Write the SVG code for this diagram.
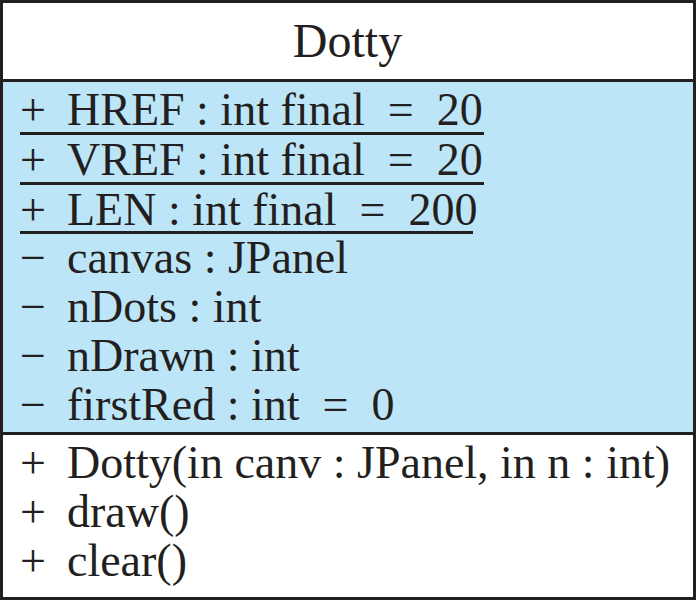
<svg xmlns="http://www.w3.org/2000/svg" width="696" height="600" viewBox="0 0 696 600">
<style>
text{font-family:"Liberation Serif","Times New Roman",serif;font-size:46px;fill:#231f20;white-space:pre}
.t{font-size:48px}
.u{stroke:#231f20;stroke-width:3}
.b{stroke:#231f20;stroke-width:3}
</style>
<g id="Dotty">
<rect x="1.5" y="1.5" width="693" height="597" fill="#fff" stroke="#231f20" stroke-width="3"/>
<rect x="3" y="81" width="690" height="352" fill="#bde5f8"/>
<line class="b" x1="1.5" y1="80.5" x2="694.5" y2="80.5"/>
<line class="b" x1="1.5" y1="433.5" x2="694.5" y2="433.5"/>
<text class="t" x="347.5" y="57" text-anchor="middle">Dotty</text>
<text x="20" y="125" xml:space="preserve">+<tspan x="67">HREF : int final  =  20</tspan></text>
<line class="u" x1="20" y1="133.5" x2="484" y2="133.5"/>
<text x="20" y="175" xml:space="preserve">+<tspan x="67">VREF : int final  =  20</tspan></text>
<line class="u" x1="20" y1="183.5" x2="484" y2="183.5"/>
<text x="20" y="225" xml:space="preserve">+<tspan x="67">LEN : int final  =  200</tspan></text>
<line class="u" x1="20" y1="232.5" x2="473" y2="232.5"/>
<text x="20" y="273" xml:space="preserve">−<tspan x="67">canvas : JPanel</tspan></text>
<text x="20" y="322" xml:space="preserve">−<tspan x="67">nDots : int</tspan></text>
<text x="20" y="371" xml:space="preserve">−<tspan x="67">nDrawn : int</tspan></text>
<text x="20" y="420" xml:space="preserve">−<tspan x="67">firstRed : int  =  0</tspan></text>
<text x="20" y="478" xml:space="preserve">+<tspan x="67">Dotty(in canv : JPanel, in n : int)</tspan></text>
<text x="20" y="527" xml:space="preserve">+<tspan x="67">draw()</tspan></text>
<text x="20" y="576" xml:space="preserve">+<tspan x="67">clear()</tspan></text>
</g>
</svg>
